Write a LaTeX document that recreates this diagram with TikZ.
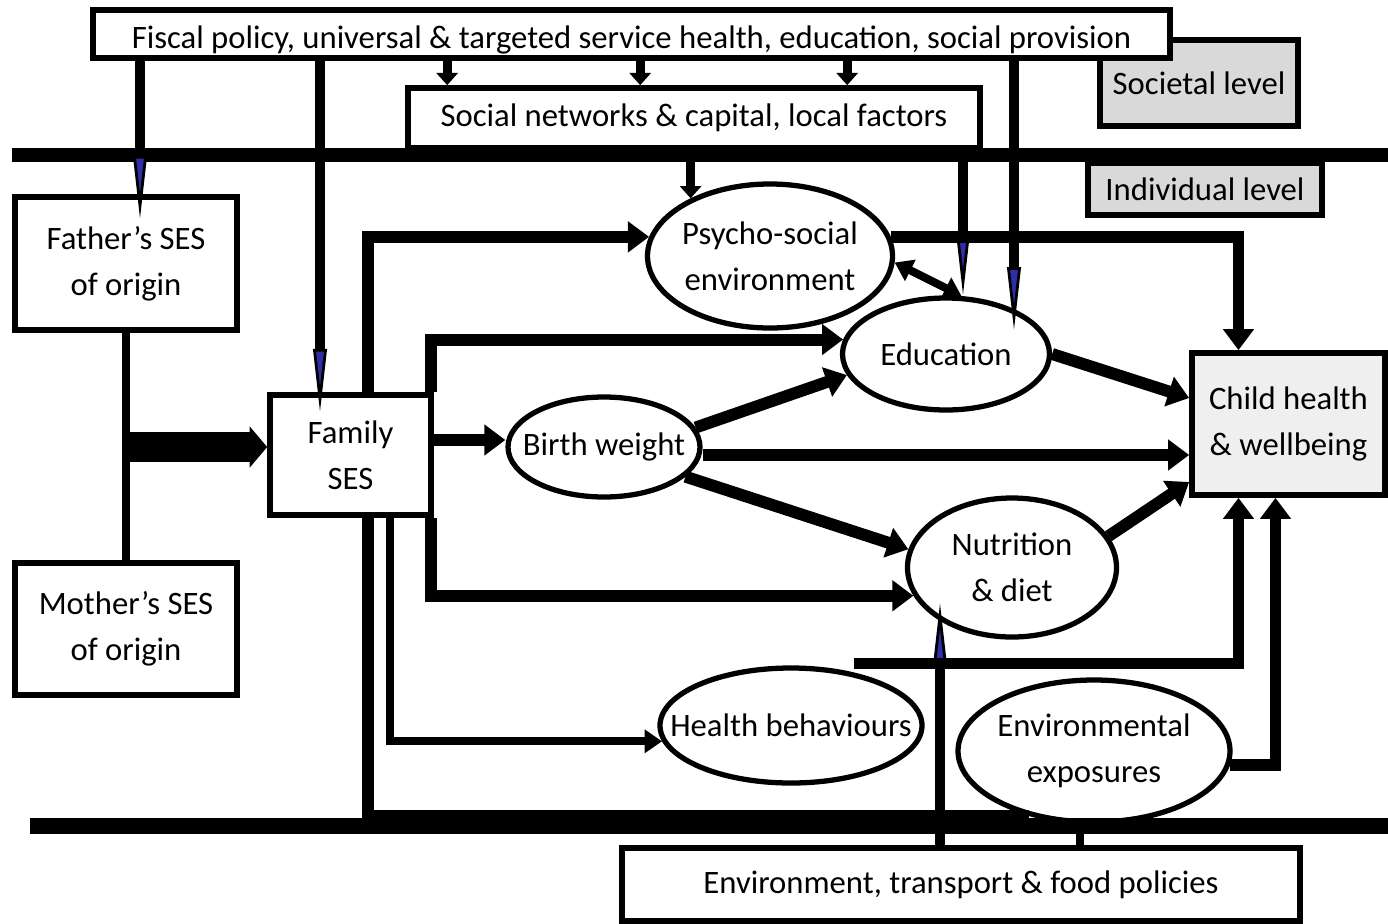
\documentclass[tikz,border=0pt]{standalone}
\usepackage{fontspec}
\setmainfont{Carlito}
\usepackage{xcolor}
\usepackage{tikz}
\usetikzlibrary{shapes.geometric,arrows.meta,positioning}

\definecolor{levelgray}{HTML}{D9D9D9}
\definecolor{outcomegray}{HTML}{EFEFEF}
\definecolor{tipblue}{HTML}{2E2EA8}

\begin{document}
\begin{tikzpicture}[
    font=\fontsize{9.3}{13}\selectfont,
    box/.style={draw, line width=1.6pt, fill=white, align=center, inner sep=0pt},
    oval/.style={draw, ellipse, line width=1.5pt, fill=white, inner sep=0pt},
    every label/.style={align=center, inner sep=0pt},
    flow/.style={line width=3.4pt, -{Triangle[length=6pt,width=8.5pt]}},
    link/.style={line width=2.3pt, -{Triangle[length=5pt,width=6.5pt]}},
    drop/.style={line width=2.6pt, -{Triangle[length=3.5pt,width=6pt]}},
    feed/.style={line width=2.6pt, -{Triangle[length=18pt,width=3.8pt,line width=0.8pt,fill=tipblue]}},
    merge/.style={line width=8.5pt, -{Triangle[length=5pt,width=11.5pt]}},
    bar/.style={line width=2.3pt},
    divider/.style={line width=4pt}
]
    \useasboundingbox (0,0) rectangle (13.88,-9.23);

    % Societal level
    \node[box, fill=levelgray, minimum width=1.98cm, minimum height=0.86cm] (societal) at (11.99,-0.83) {Societal level};
    \node[box, minimum width=10.77cm, minimum height=0.48cm, text height=9pt, text depth=1pt] (fiscal) at (6.315,-0.34) {Fiscal policy, universal \& targeted service health, education, social provision};
    \node[box, minimum width=5.72cm, minimum height=0.6cm] (social) at (6.94,-1.18) {Social networks \& capital, local factors};

    % Individual level
    \node[box, fill=levelgray, minimum width=2.34cm, minimum height=0.52cm] (individual) at (12.05,-1.89) {Individual level};
    \node[box, minimum width=2.22cm, minimum height=1.33cm] (father) at (1.26,-2.635) {Father’s SES\\of origin};
    \node[box, minimum width=2.22cm, minimum height=1.32cm] (mother) at (1.26,-6.29) {Mother’s SES\\of origin};
    \node[box, minimum width=1.61cm, minimum height=1.2cm] (family) at (3.505,-4.55) {Family\\SES};
    \node[box, fill=outcomegray, minimum width=1.93cm, minimum height=1.42cm] (child) at (12.885,-4.24) {Child health\\\& wellbeing};

    \node[oval, minimum width=2.45cm, minimum height=1.44cm, label={center:Psycho-social\\environment}] (psycho) at (7.70,-2.56) {};
    \node[oval, minimum width=2.07cm, minimum height=1.12cm, label={center:Education}] (education) at (9.46,-3.54) {};
    \node[oval, minimum width=1.92cm, minimum height=1.0cm, label={center:Birth weight}] (birth) at (6.04,-4.47) {};
    \node[oval, minimum width=2.09cm, minimum height=1.39cm, label={center:Nutrition\\\& diet}] (nutrition) at (10.12,-5.675) {};
    \node[oval, minimum width=2.62cm, minimum height=1.15cm, label={center:Health behaviours}] (health) at (7.91,-7.255) {};
    \node[oval, minimum width=2.72cm, minimum height=1.42cm, label={center:Environmental\\exposures}] (envexp) at (10.94,-7.51) {};

    % Environmental policies
    \node[box, minimum width=6.78cm, minimum height=0.73cm] (policies) at (9.61,-8.845) {Environment, transport \& food policies};

    % Level dividers
    \draw[divider] (0.12,-1.55) -- (13.88,-1.55);
    \draw[divider, line width=4.8pt] (0.30,-8.26) -- (13.88,-8.26);

    % Fiscal policy to local factors
    \coordinate (s1) at ([xshift=0.42cm]social.north west);
    \coordinate (s2) at ([xshift=2.35cm]social.north west);
    \coordinate (s3) at ([xshift=4.42cm]social.north west);
    \draw[drop] (fiscal.south -| s1) -- (s1);
    \draw[drop] (fiscal.south -| s2) -- (s2);
    \draw[drop] (fiscal.south -| s3) -- (s3);
    \draw[drop] (social.south -| psycho.144) -- (psycho.144);

    % Policy lines with narrow tips
    \coordinate (ftip) at ([xshift=0.14cm,yshift=-0.25cm]father.north);
    \coordinate (stip) at ([xshift=-0.305cm,yshift=-0.2cm]family.north);
    \coordinate (etip) at ([xshift=0.68cm,yshift=-0.35cm]education.north);
    \coordinate (ltip) at ([xshift=0.17cm]education.north);
    \coordinate (ntip) at ([xshift=-0.72cm,yshift=0.37cm]nutrition.south);
    \draw[feed] (fiscal.south -| ftip) -- (ftip);
    \draw[feed] (fiscal.south -| stip) -- (stip);
    \draw[feed] (fiscal.south -| etip) -- (etip);
    \draw[feed] (social.south -| ltip) -- (ltip);
    \draw[feed] (policies.north -| ntip) -- (ntip);

    % Parents to family
    \coordinate (fm) at ([yshift=0.08cm]family.west);
    \draw[bar] (father.south) -- (mother.north);
    \draw[merge] (father.south |- fm) -- (fm);

    % Family SES
    \coordinate (fb) at ([yshift=0.15cm]family.east);
    \draw[flow] (fb) -- (fb -| birth.west);
    \draw[flow] ([xshift=0.175cm]family.north) |- (psycho.171);
    \draw[flow] ([xshift=-0.03cm]family.north east) |- (education.172);
    \draw[flow] ([xshift=-0.03cm]family.south east) |- (nutrition.196);
    \draw[link] ([xshift=0.395cm]family.south) |- (health.187);
    \draw[bar, line width=3.6pt] ([xshift=0.175cm]family.south) |- (envexp.225);

    % Birth weight
    \coordinate (bc) at ([yshift=-0.08cm]birth.east);
    \draw[flow] (birth.12) -- (education.192);
    \draw[flow] (bc) -- (bc -| child.west);
    \draw[flow] (birth.-20) -- (nutrition.170);

    % Into child health
    \draw[link, {Triangle[length=5pt,width=6.5pt]}-{Triangle[length=5pt,width=6.5pt]}] (psycho.-3) -- (education.75);
    \draw[flow] (psycho.9) -| ([xshift=-0.5cm]child.north);
    \draw[flow] (education.east) -- ([yshift=0.26cm]child.west);
    \draw[flow] (nutrition.18) -- ([yshift=-0.58cm]child.west);
    \coordinate (hc) at ([yshift=0.09cm]health.40);
    \draw[flow] (hc) -| ([xshift=-0.5cm]child.south);
    \draw[flow] (envexp.-6) -| ([xshift=-0.13cm]child.south);

    % Policies to exposures
    \coordinate (pe) at ([xshift=-0.14cm]envexp.south);
    \draw[bar] (policies.north -| pe) -- (pe);
\end{tikzpicture}
\end{document}
